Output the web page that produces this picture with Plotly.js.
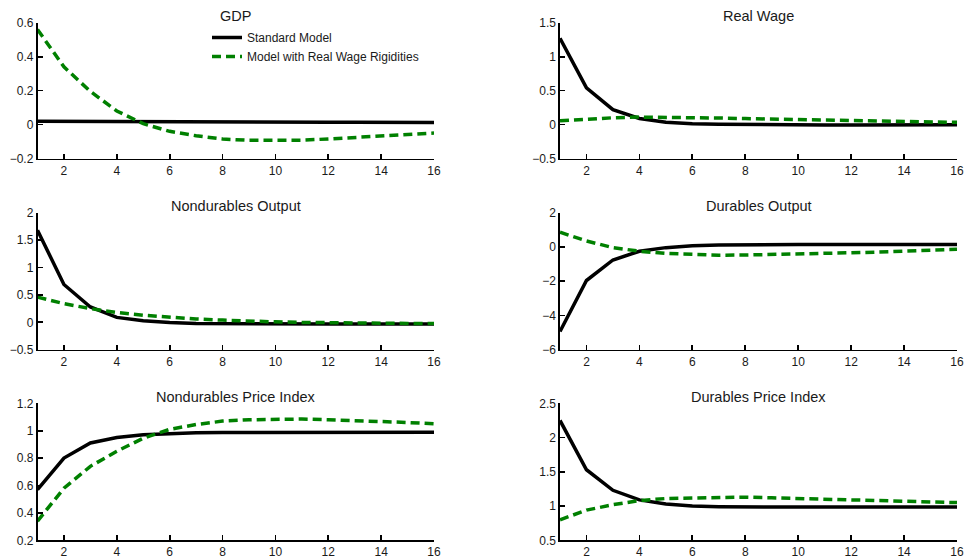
<!DOCTYPE html>
<html>
<head>
<meta charset="utf-8">
<script src="https://cdn.plot.ly/plotly-3.0.1.min.js"></script>
<style>html,body{margin:0;padding:0;background:#fff;}#chart{width:968px;height:560px;}</style>
</head>
<body>
<div id="chart"></div>
<script>
// ---- data ----
const periods = [1,2,3,4,5,6,7,8,9,10,11,12,13,14,15,16];
const seriesNames = ["Standard Model", "Model with Real Wage Rigidities"];
const panelTitles = ["GDP", "Real Wage", "Nondurables Output", "Durables Output", "Nondurables Price Index", "Durables Price Index"];

const gdpStd = [0.020,0.019,0.019,0.018,0.018,0.017,0.017,0.016,0.016,0.015,0.015,0.014,0.014,0.013,0.013,0.012];
const gdpRig = [0.56,0.34,0.195,0.08,0.005,-0.04,-0.066,-0.085,-0.093,-0.094,-0.092,-0.085,-0.077,-0.068,-0.059,-0.05];

const rwStd = [1.27,0.54,0.22,0.09,0.035,0.012,0.003,-0.002,-0.004,-0.005,-0.005,-0.005,-0.005,-0.005,-0.004,-0.004];
const rwRig = [0.055,0.08,0.10,0.11,0.108,0.103,0.096,0.088,0.08,0.072,0.064,0.057,0.05,0.044,0.038,0.033];

const ndoStd = [1.68,0.69,0.28,0.09,0.03,-0.005,-0.02,-0.025,-0.028,-0.03,-0.03,-0.03,-0.03,-0.03,-0.03,-0.03];
const ndoRig = [0.46,0.34,0.25,0.18,0.13,0.09,0.06,0.04,0.02,0.008,-0.002,-0.01,-0.015,-0.018,-0.02,-0.02];

const doStd = [-4.94,-1.96,-0.76,-0.25,-0.04,0.07,0.11,0.13,0.14,0.14,0.14,0.14,0.14,0.14,0.14,0.14];
const doRig = [0.86,0.35,-0.04,-0.25,-0.38,-0.45,-0.48,-0.47,-0.45,-0.42,-0.38,-0.34,-0.30,-0.25,-0.20,-0.14];

const ndpStd = [0.57,0.80,0.91,0.95,0.97,0.98,0.985,0.987,0.988,0.989,0.989,0.989,0.989,0.989,0.989,0.989];
const ndpRig = [0.34,0.58,0.74,0.85,0.945,1.01,1.045,1.07,1.08,1.085,1.085,1.08,1.075,1.07,1.06,1.05];

const dpStd = [2.25,1.53,1.23,1.09,1.03,1.0,0.99,0.985,0.985,0.985,0.985,0.985,0.985,0.985,0.985,0.985];
const dpRig = [0.80,0.94,1.02,1.08,1.11,1.12,1.13,1.13,1.12,1.11,1.10,1.09,1.08,1.07,1.06,1.05];

const xTicks = [2,4,6,8,10,12,14,16];
const yTicksGdp = [-0.2,0,0.2,0.4,0.6];
const yTicksRw = [-0.5,0,0.5,1,1.5];
const yTicksNdo = [-0.5,0,0.5,1,1.5,2];
const yTicksDo = [-6,-4,-2,0,2];
const yTicksNdp = [0.2,0.4,0.6,0.8,1,1.2];
const yTicksDp = [0.5,1,1.5,2,2.5];

// ---- build ----
const W = 968, H = 560;
const panels = [
  {std: gdpStd, rig: gdpRig, yt: yTicksGdp},
  {std: rwStd, rig: rwRig, yt: yTicksRw},
  {std: ndoStd, rig: ndoRig, yt: yTicksNdo},
  {std: doStd, rig: doRig, yt: yTicksDo},
  {std: ndpStd, rig: ndpRig, yt: yTicksNdp},
  {std: dpStd, rig: dpRig, yt: yTicksDp}
];
const colPx = [[37.5, 434], [560, 957]];
const rowPx = [[22.7, 158.5], [212.7, 349.7], [403.3, 540.3]];
const font = "'Liberation Sans', Arial, Helvetica, sans-serif";
const green = "#008000";

const traces = [];
const layout = {
  width: W, height: H,
  margin: {l: 0, r: 0, t: 0, b: 0},
  paper_bgcolor: "#fff", plot_bgcolor: "#fff",
  font: {family: font, size: 12, color: "#1a1a1a"},
  showlegend: true,
  legend: {
    x: 207 / W, y: 1 - 23 / H, xanchor: "left", yanchor: "top",
    bgcolor: "rgba(255,255,255,0)", borderwidth: 0,
    font: {family: font, size: 12, color: "#1a1a1a"},
    tracegroupgap: 0
  },
  annotations: []
};

panels.forEach((p, i) => {
  const col = i % 2, row = Math.floor(i / 2);
  const n = i + 1;
  const xa = n === 1 ? "x" : "x" + n, ya = n === 1 ? "y" : "y" + n;
  traces.push({
    x: periods, y: p.std, xaxis: xa, yaxis: ya, type: "scatter", mode: "lines",
    name: seriesNames[0], showlegend: i === 0, legendgroup: "s",
    line: {color: "#000", width: 3.5}, hoverinfo: "skip"
  });
  traces.push({
    x: periods, y: p.rig, xaxis: xa, yaxis: ya, type: "scatter", mode: "lines",
    name: seriesNames[1], showlegend: i === 0, legendgroup: "r",
    line: {color: green, width: 3.5, dash: "9px,5px"}, hoverinfo: "skip"
  });
  const xd = [colPx[col][0] / W, colPx[col][1] / W];
  const yd = [1 - rowPx[row][1] / H, 1 - rowPx[row][0] / H];
  const axCommon = {
    showline: true, linecolor: "#000", linewidth: 1.7,
    ticks: "inside", ticklen: 5, tickwidth: 1.7, tickcolor: "#000",
    showgrid: false, zeroline: false, fixedrange: true,
    tickfont: {family: font, size: 12, color: "#1a1a1a"}
  };
  layout["xaxis" + (n === 1 ? "" : n)] = Object.assign({}, axCommon, {
    domain: xd, range: [1, 16], tickmode: "array", tickvals: xTicks,
    anchor: ya, ticklabelstandoff: 0
  });
  const yt = p.yt;
  layout["yaxis" + (n === 1 ? "" : n)] = Object.assign({}, axCommon, {
    domain: yd, range: [yt[0], yt[yt.length - 1]], tickmode: "array", tickvals: yt,
    anchor: xa
  });
  layout.annotations.push({
    text: panelTitles[i], xref: "paper", yref: "paper",
    x: (xd[0] + xd[1]) / 2, y: 1 - (rowPx[row][0] - 6.5) / H,
    xanchor: "center", yanchor: "middle", showarrow: false,
    font: {family: font, size: 14.5, color: "#1a1a1a"}
  });
});

Plotly.newPlot("chart", traces, layout, {displayModeBar: false, staticPlot: true});
</script>
</body>
</html>
